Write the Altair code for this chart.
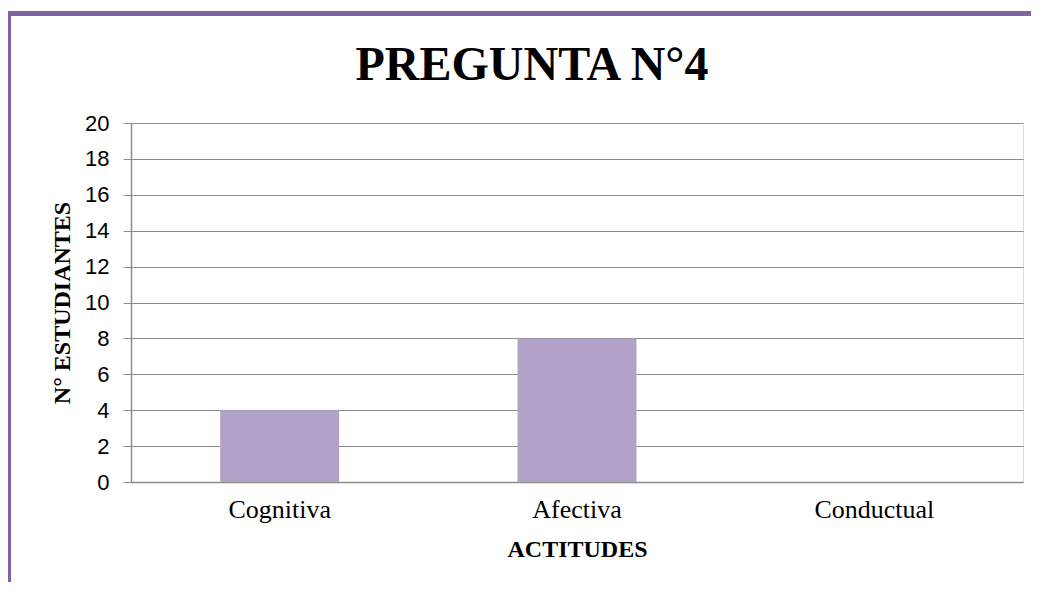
import altair as alt
import pandas as pd

categories = ["Cognitiva", "Afectiva", "Conductual"]
values = [4, 8, 0]
y_ticks = list(range(0, 21, 2))
title_text = "PREGUNTA N°4"

df = pd.DataFrame({"actitud": categories, "n": values})

GRID = "#8c8c8c"
BAR = "#B3A2C7"
FRAME = "#8064A2"

bars = alt.Chart(df).mark_bar(color=BAR).encode(
    x=alt.X("actitud:N", sort=categories,
            scale=alt.Scale(paddingInner=0.6, paddingOuter=0.3),
            axis=alt.Axis(title="ACTITUDES", labelAngle=0, ticks=False,
                          labelFont="Liberation Serif", labelFontSize=26,
                          labelColor="#000000", labelPadding=14,
                          titleFont="Liberation Serif", titleFontSize=24,
                          titleFontWeight="bold", titleColor="#000000",
                          titlePadding=15, domainColor=GRID, domainWidth=1.5,
                          grid=False)),
    y=alt.Y("n:Q", scale=alt.Scale(domain=[0, 20], nice=False),
            axis=alt.Axis(title="N° ESTUDIANTES", values=y_ticks,
                          labelFont="Liberation Sans", labelFontSize=22,
                          labelColor="#000000", labelPadding=14,
                          tickSize=8, tickColor=GRID, domainColor=GRID,
                          domainWidth=1.5, gridColor=GRID, gridWidth=1,
                          titleFont="Liberation Serif", titleFontSize=24,
                          titleFontWeight="bold", titleColor="#000000",
                          titlePadding=10)),
)

title = alt.Chart(pd.DataFrame({"t": [title_text]})).mark_text(
    font="Liberation Serif", fontSize=48, fontWeight="bold", color="#000000",
    align="center", baseline="alphabetic"
).encode(text="t:N", x=alt.value(401), y=alt.value(-43))

# decorative frame (top and left purple border)
top_border = alt.Chart(df).mark_rule(color=FRAME, strokeWidth=5).encode(
    x=alt.value(-125), x2=alt.value(900), y=alt.value(-109.5)
)
left_border = alt.Chart(df).mark_rule(color=FRAME, strokeWidth=5).encode(
    x=alt.value(-122.5), y=alt.value(-112), y2=alt.value(470)
)

chart = alt.layer(bars, title, top_border, left_border).properties(
    width=892, height=359,
    autosize=alt.AutoSizeParams(type="none"),
    padding={"left": 123, "top": 115, "right": 8, "bottom": 100},
).configure_view(stroke=None).configure(background="white")

chart.save("out.html", embed_options={"renderer": "svg", "actions": False})
